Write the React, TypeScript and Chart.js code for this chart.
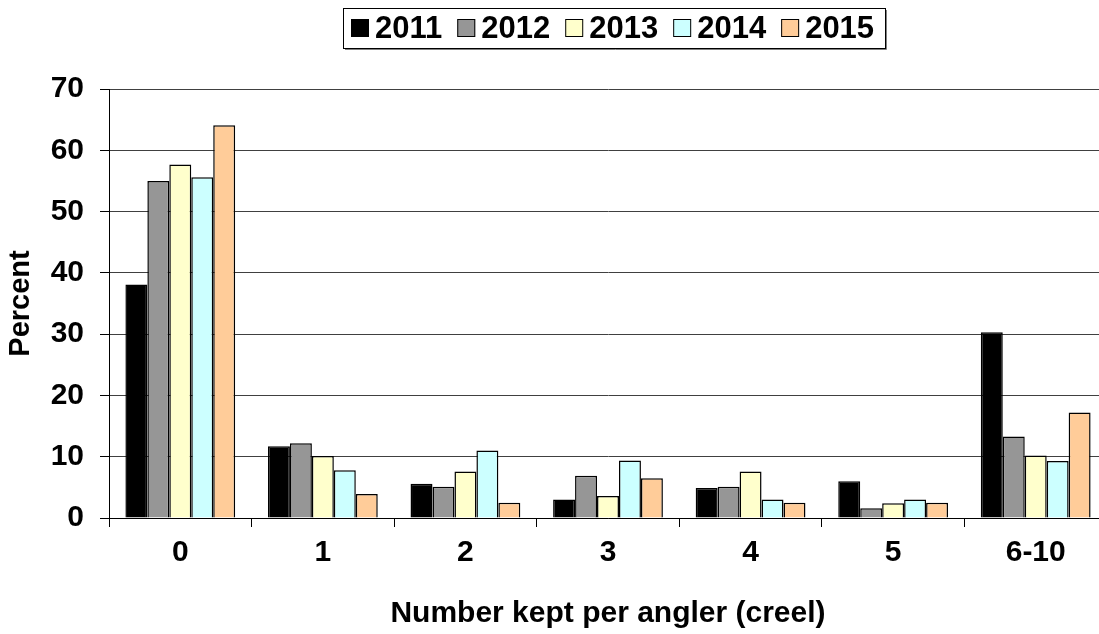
import React, { useEffect, useRef } from 'react';
import { Chart, registerables } from 'chart.js';

Chart.register(...registerables);

const categories = ['0', '1', '2', '3', '4', '5', '6-10'];
const seriesNames = ['2011', '2012', '2013', '2014', '2015'];
const values2011 = [38.1, 11.7, 5.6, 3.0, 4.9, 6.0, 30.3];
const values2012 = [55.0, 12.2, 5.1, 6.9, 5.1, 1.6, 13.3];
const values2013 = [57.7, 10.1, 7.6, 3.6, 7.6, 2.4, 10.2];
const values2014 = [55.6, 7.8, 11.0, 9.4, 3.0, 3.0, 9.3];
const values2015 = [64.1, 3.9, 2.5, 6.5, 2.5, 2.5, 17.2];
const seriesColors = ['#000000', '#969696', '#FFFFCC', '#CCFFFF', '#FFCC99'];
const yMin = 0;
const yMax = 70;
const yStep = 10;
const xTitle = 'Number kept per angler (creel)';
const yTitle = 'Percent';

const FONT = "'Liberation Sans', Arial, Helvetica, sans-serif";
const FS = 30;
const FS_YTITLE = 29;
const FS_LEGEND = 31;

const boxLegend = {
  id: 'boxLegend',
  afterDraw(chart: any) {
    const ctx = chart.ctx as CanvasRenderingContext2D;
    const ds = chart.data.datasets;
    ctx.save();
    ctx.font = `bold ${FS_LEGEND}px ${FONT}`;
    const box = 18;
    const gapText = 6;
    const gapItem = 15;
    const padL = 8;
    const padR = 11;
    const widths = ds.map((d: any) => ctx.measureText(d.label).width);
    let inner = 0;
    widths.forEach((w: number, i: number) => {
      inner += box + gapText + w + (i < widths.length - 1 ? gapItem : 0);
    });
    const total = Math.round(inner + padL + padR);
    const ca = chart.chartArea;
    const center = (ca.left + ca.right) / 2 + 6;
    const left = Math.round(center - total / 2);
    const top = 8;
    const h = 40;
    ctx.fillStyle = '#ffffff';
    ctx.fillRect(left, top, total, h);
    ctx.strokeStyle = '#000000';
    ctx.lineWidth = 1;
    ctx.strokeRect(left + 0.5, top + 0.5, total, h);
    ctx.strokeStyle = '#808080';
    ctx.beginPath();
    ctx.moveTo(left + total + 1.5, top + 2);
    ctx.lineTo(left + total + 1.5, top + h + 1.5);
    ctx.lineTo(left + 2, top + h + 1.5);
    ctx.stroke();
    let x = left + padL;
    const cy = top + h / 2;
    ds.forEach((d: any, i: number) => {
      const by = Math.round(cy - box / 2);
      ctx.fillStyle = d.backgroundColor;
      ctx.fillRect(x, by, box, box);
      ctx.strokeStyle = '#000000';
      ctx.lineWidth = 1;
      ctx.strokeRect(x + 0.5, by + 0.5, box - 1, box - 1);
      x += box + gapText;
      ctx.fillStyle = '#000000';
      ctx.textBaseline = 'middle';
      ctx.textAlign = 'left';
      ctx.fillText(d.label, x, cy + 1);
      x += widths[i] + gapItem;
    });
    ctx.restore();
  },
};

export default function App() {
  const ref = useRef<HTMLCanvasElement | null>(null);
  useEffect(() => {
    if (!ref.current) return;
    const valueLists = [values2011, values2012, values2013, values2014, values2015];
    const chart = new Chart(ref.current, {
      type: 'bar',
      data: {
        labels: categories,
        datasets: seriesNames.map((name, i) => ({
          label: name,
          data: valueLists[i],
          backgroundColor: seriesColors[i],
          borderColor: '#000000',
          borderWidth: 1.5,
          categoryPercentage: 0.77,
          barPercentage: 1.0,
        })),
      },
      options: {
        responsive: false,
        animation: false,
        devicePixelRatio: 1,
        layout: { padding: { top: 89, left: 0, right: 13, bottom: 0 } },
        plugins: {
          legend: { display: false },
          tooltip: { enabled: false },
        },
        scales: {
          x: {
            offset: true,
            grid: {
              display: true,
              offset: true,
              drawOnChartArea: false,
              drawTicks: true,
              tickLength: 9,
              color: '#000000',
            },
            border: { display: true, color: '#000000', width: 1 },
            ticks: {
              color: '#000000',
              padding: 8,
              font: { family: FONT, size: FS, weight: 'bold' },
              maxRotation: 0,
              autoSkip: false,
            },
            title: {
              display: true,
              text: xTitle,
              color: '#000000',
              font: { family: FONT, size: FS, weight: 'bold' },
              padding: { top: 0, bottom: 2 },
            },
            afterFit: (scale: any) => {
              scale.height = 116;
            },
          },
          y: {
            min: yMin,
            max: yMax,
            grid: {
              color: '#404040',
              lineWidth: 1,
              drawTicks: true,
              tickLength: 9,
              tickColor: '#000000',
            },
            border: { display: true, color: '#000000', width: 1 },
            ticks: {
              stepSize: yStep,
              color: '#000000',
              padding: 16,
              font: { family: FONT, size: FS, weight: 'bold' },
            },
            title: {
              display: true,
              text: yTitle,
              color: '#000000',
              font: { family: FONT, size: FS_YTITLE, weight: 'bold' },
              padding: { top: 4, bottom: 0 },
            },
            afterFit: (scale: any) => {
              scale.width = 109;
            },
          },
        },
      },
      plugins: [boxLegend],
    });
    return () => chart.destroy();
  }, []);

  return (
    <div
      style={{
        position: 'fixed',
        left: 0,
        top: 0,
        width: 1099,
        height: 634,
        overflow: 'hidden',
        background: '#ffffff',
      }}
    >
      <canvas ref={ref} width={1120} height={634} style={{ display: 'block' }} />
    </div>
  );
}
